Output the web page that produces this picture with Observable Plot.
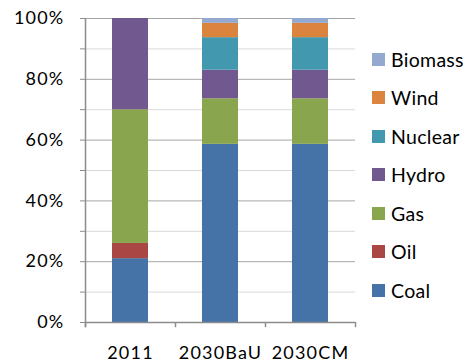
<!DOCTYPE html>
<html>
<head>
<meta charset="utf-8">
<script src="https://cdn.jsdelivr.net/npm/d3@7"></script>
<script src="https://cdn.jsdelivr.net/npm/@observablehq/plot@0.6"></script>
<style>
  body { margin: 0; background: #fff; }
  #chart { position: relative; width: 471px; height: 363px; font-family: Lato, sans-serif; }
  #chart svg { position: absolute; left: 0; top: 0; }
  .legend { position: absolute; left: 372px; top: 0; width: 99px; height: 363px; }
  .item { position: absolute; left: 0; height: 20px; display: flex; align-items: center;
          font-size: 19.5px; letter-spacing: 0.3px; white-space: nowrap; color: #000; }
  .sw { width: 13px; height: 13px; margin-right: 6px; flex: none; }
</style>
</head>
<body>
<div id="chart"></div>
<script>
// Electricity generation mix by scenario (share of total, %)
const categories = ["2011", "2030BaU", "2030CM"];
const sources = ["Coal", "Oil", "Gas", "Hydro", "Nuclear", "Wind", "Biomass"];
const coal    = [21,   58.6, 58.6];
const oil     = [5,    0,    0];
const gas     = [44,   15,   15];
const hydro   = [30,   9.4,  9.4];
const nuclear = [0,    10.7, 10.7];
const wind    = [0,    4.7,  4.7];
const biomass = [0,    1.6,  1.6];
const yTicks = [0, 10, 20, 30, 40, 50, 60, 70, 80, 90, 100];

const palette = ["#4572A7", "#AA4643", "#89A54E", "#71588F", "#4198AF", "#DB843D", "#93A9CF"];

const series = [coal, oil, gas, hydro, nuclear, wind, biomass];
const rows = [];
sources.forEach((s, i) => categories.forEach((c, j) => rows.push({source: s, category: c, share: series[i][j]})));

const W = 471, H = 363, mL = 85, mR = 116, mT = 18, mB = 41;
const step = (W - mL - mR) / categories.length;

const chart = Plot.plot({
  width: W, height: H,
  marginLeft: mL, marginRight: mR, marginTop: mT, marginBottom: mB,
  style: { fontFamily: "Lato", fontSize: "18px", letterSpacing: "1.2px", color: "#000", background: "transparent" },
  x: { domain: categories, paddingInner: 0.6, paddingOuter: 0.3, axis: null },
  y: { domain: [0, 100], axis: null },
  color: { domain: sources, range: palette },
  marks: [
    // minor and major gridlines
    Plot.gridY(yTicks.filter(d => d % 20 !== 0), { stroke: "#d9d9d9", strokeOpacity: 1 }),
    Plot.gridY(yTicks.filter(d => d % 20 === 0 && d > 0), { stroke: "#a6a6a6", strokeOpacity: 1 }),
    Plot.barY(rows, { x: "category", y: "share", fill: "source", order: sources }),
    // y axis: ticks every 10%, labels every 20%
    Plot.axisY(yTicks, {
      tickSize: 5, tickPadding: 16, stroke: "#8c8c8c", fill: "#000",
      tickFormat: d => d % 20 === 0 ? d + "%" : "", label: null
    }),
    // axis lines
    Plot.ruleX([categories[0]], { dx: -step / 2, y1: -1.7, y2: 100, stroke: "#8c8c8c", strokeWidth: 1.5 }),
    Plot.ruleY([0], { stroke: "#8c8c8c", strokeWidth: 1.5 }),
    // category separator ticks
    Plot.ruleX(categories, { dx: -step / 2, y1: -1.7, y2: 0, stroke: "#8c8c8c", strokeWidth: 1.5 }),
    Plot.ruleX([categories[categories.length - 1]], { dx: step / 2, y1: -1.7, y2: 0, stroke: "#8c8c8c", strokeWidth: 1.5 }),
    Plot.axisX({ tickSize: 0, tickPadding: 24, label: null, fill: "#000" })
  ]
});

const root = document.getElementById("chart");
root.appendChild(chart);

// legend, listed top-down from the top of the stack
const legend = document.createElement("div");
legend.className = "legend";
sources.slice().reverse().forEach((s, i) => {
  const item = document.createElement("div");
  item.className = "item";
  item.style.top = (49 + i * 38.5) + "px";
  const sw = document.createElement("span");
  sw.className = "sw";
  sw.style.background = palette[sources.indexOf(s)];
  item.appendChild(sw);
  item.appendChild(document.createTextNode(s));
  legend.appendChild(item);
});
root.appendChild(legend);
</script>
</body>
</html>
